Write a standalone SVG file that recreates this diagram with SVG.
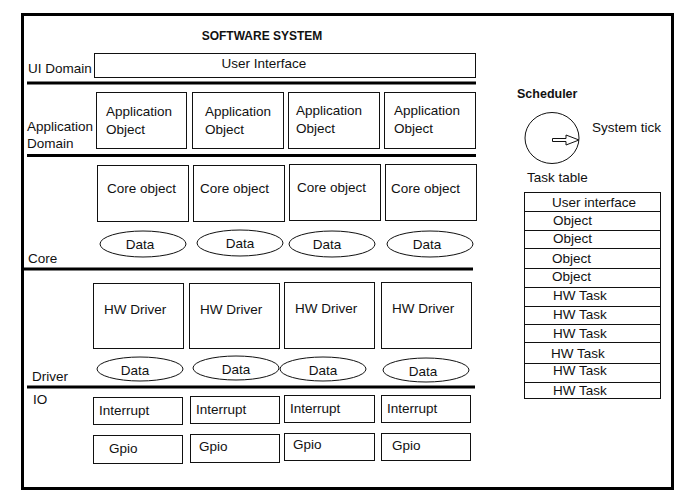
<svg xmlns="http://www.w3.org/2000/svg" width="692" height="502" viewBox="0 0 692 502">
<style>
  text { font-family: "Liberation Sans", Arial, sans-serif; font-size: 13.5px; fill: #111; }
  .b { font-weight: bold; font-size: 12px; }
  .sb { font-weight: bold; font-size: 12.5px; }
  .c { text-anchor: middle; }
  .box { fill: #fff; stroke: #111; stroke-width: 1; }
  .ell { fill: #fff; stroke: #111; stroke-width: 1; }
  .sep { stroke: #000; stroke-width: 3; }
</style>
<rect width="692" height="502" fill="#fff"/>
<rect x="22.5" y="14.5" width="650" height="474" fill="none" stroke="#000" stroke-width="3"/>
<text class="b c" x="262" y="40">SOFTWARE SYSTEM</text>

<g id="labels">
  <text x="28" y="73">UI Domain</text>
  <text x="27" y="131">Application</text>
  <text x="27" y="148">Domain</text>
  <text x="28" y="263">Core</text>
  <text x="32" y="381">Driver</text>
  <text x="33" y="404">IO</text>
</g>

<g id="separators">
  <line class="sep" x1="27" y1="83" x2="476" y2="83"/>
  <line class="sep" x1="27" y1="155.5" x2="476" y2="155.5"/>
  <line class="sep" x1="22" y1="269" x2="473" y2="269"/>
  <line class="sep" x1="27" y1="387" x2="475" y2="387"/>
</g>

<g id="ui">
  <rect class="box" x="94.5" y="53.5" width="381" height="24"/>
  <text class="c" x="264" y="68">User Interface</text>
</g>

<g id="app-objects">
  <rect class="box" x="96.5" y="92.5" width="90" height="56"/>
  <text x="106" y="116">Application</text><text x="106" y="134">Object</text>
  <rect class="box" x="192.5" y="92.5" width="91" height="56"/>
  <text x="205" y="116">Application</text><text x="205" y="134">Object</text>
  <rect class="box" x="288.5" y="92.5" width="91" height="56"/>
  <text x="296" y="115">Application</text><text x="296" y="133">Object</text>
  <rect class="box" x="384.5" y="92.5" width="91" height="56"/>
  <text x="394" y="115">Application</text><text x="394" y="133">Object</text>
</g>

<g id="core-objects">
  <rect class="box" x="97.5" y="165.5" width="91" height="56"/>
  <text x="107" y="193">Core object</text>
  <rect class="box" x="193.5" y="165.5" width="91" height="56"/>
  <text x="200" y="193">Core object</text>
  <rect class="box" x="289.5" y="164.5" width="91" height="56"/>
  <text x="297" y="192">Core object</text>
  <rect class="box" x="385.5" y="164.5" width="91" height="56"/>
  <text x="391" y="193">Core object</text>
</g>

<g id="core-data">
  <ellipse class="ell" cx="143" cy="244" rx="43" ry="13"/>
  <text class="c" x="140" y="249">Data</text>
  <ellipse class="ell" cx="240" cy="243" rx="43" ry="13"/>
  <text class="c" x="240" y="248">Data</text>
  <ellipse class="ell" cx="332" cy="244" rx="43" ry="13"/>
  <text class="c" x="327" y="249">Data</text>
  <ellipse class="ell" cx="430" cy="244" rx="43" ry="13"/>
  <text class="c" x="427" y="249">Data</text>
</g>

<g id="hw-drivers">
  <rect class="box" x="93.5" y="283.5" width="90" height="65"/>
  <text x="104" y="314">HW Driver</text>
  <rect class="box" x="189.5" y="283.5" width="90" height="65"/>
  <text x="200" y="314">HW Driver</text>
  <rect class="box" x="284.5" y="282.5" width="90" height="66"/>
  <text x="295" y="313">HW Driver</text>
  <rect class="box" x="381.5" y="282.5" width="90" height="66"/>
  <text x="392" y="313">HW Driver</text>
</g>

<g id="driver-data">
  <ellipse class="ell" cx="140" cy="369" rx="43" ry="12"/>
  <text class="c" x="135" y="375">Data</text>
  <ellipse class="ell" cx="236" cy="368" rx="43" ry="12"/>
  <text class="c" x="236" y="374">Data</text>
  <ellipse class="ell" cx="323" cy="369" rx="43" ry="12"/>
  <text class="c" x="323" y="375">Data</text>
  <ellipse class="ell" cx="426" cy="370" rx="43" ry="12"/>
  <text class="c" x="423" y="376">Data</text>
</g>

<g id="interrupts">
  <rect class="box" x="93.5" y="397.5" width="89" height="27"/>
  <text x="99" y="415">Interrupt</text>
  <rect class="box" x="190.5" y="396.5" width="89" height="27"/>
  <text x="196" y="414">Interrupt</text>
  <rect class="box" x="284.5" y="395.5" width="90" height="27"/>
  <text x="290" y="413">Interrupt</text>
  <rect class="box" x="381.5" y="395.5" width="89" height="27"/>
  <text x="387" y="413">Interrupt</text>
</g>

<g id="gpios">
  <rect class="box" x="93.5" y="435.5" width="89" height="28"/>
  <text x="109" y="453">Gpio</text>
  <rect class="box" x="190.5" y="434.5" width="89" height="28"/>
  <text x="199" y="451">Gpio</text>
  <rect class="box" x="284.5" y="433.5" width="90" height="27"/>
  <text x="293" y="449">Gpio</text>
  <rect class="box" x="381.5" y="433.5" width="89" height="27"/>
  <text x="392" y="450">Gpio</text>
</g>

<g id="scheduler">
  <text class="sb" x="517" y="98">Scheduler</text>
  <ellipse cx="552" cy="138" rx="27" ry="25.5" fill="#fff" stroke="#111" stroke-width="1"/>
  <path d="M552.5,138.5 H566 V135 L579,140 L566,145 V141.5 H552.5 Z" fill="#fff" stroke="#111" stroke-width="1"/>
  <text x="592" y="132">System tick</text>
</g>

<g id="task-table">
  <text x="527" y="182">Task table</text>
  <rect class="box" x="524.5" y="192.5" width="136" height="19"/>
  <text class="c" x="594" y="207">User interface</text>
  <rect class="box" x="524.5" y="211.5" width="136" height="19"/>
  <text x="553" y="225">Object</text>
  <rect class="box" x="524.5" y="230.5" width="136" height="18"/>
  <text x="553" y="243">Object</text>
  <rect class="box" x="524.5" y="248.5" width="136" height="20"/>
  <text x="552" y="263">Object</text>
  <rect class="box" x="524.5" y="268.5" width="136" height="19"/>
  <text x="552" y="281">Object</text>
  <rect class="box" x="524.5" y="287.5" width="136" height="19"/>
  <text x="553" y="300">HW Task</text>
  <rect class="box" x="524.5" y="306.5" width="136" height="18"/>
  <text x="553" y="319">HW Task</text>
  <rect class="box" x="524.5" y="324.5" width="136" height="18"/>
  <text x="553" y="338">HW Task</text>
  <rect class="box" x="524.5" y="342.5" width="136" height="21"/>
  <text x="551" y="358">HW Task</text>
  <rect class="box" x="524.5" y="363.5" width="136" height="19"/>
  <text x="553" y="375">HW Task</text>
  <rect class="box" x="524.5" y="382.5" width="136" height="16"/>
  <text x="553" y="395">HW Task</text>
</g>
</svg>
